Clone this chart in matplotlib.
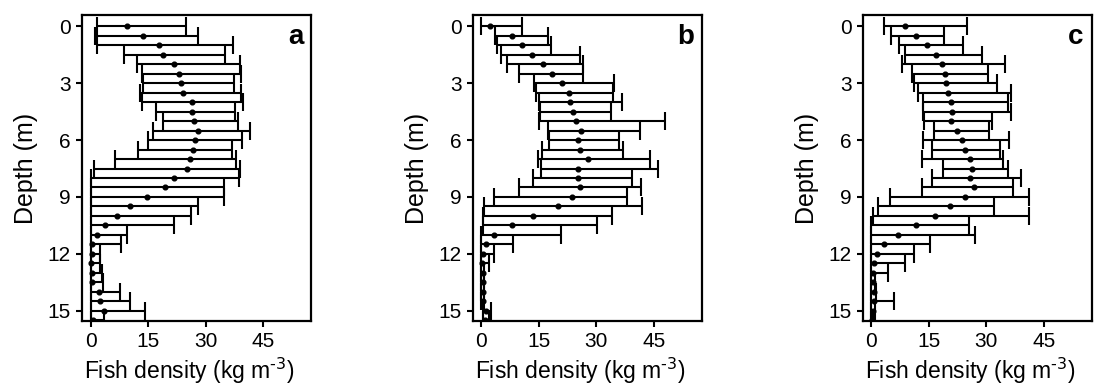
import numpy as np
import matplotlib
matplotlib.use("Agg")
import matplotlib.pyplot as plt

plt.rcParams['font.family'] = ['Liberation Sans', 'DejaVu Sans']
plt.rcParams['mathtext.default'] = 'regular'

depth = np.arange(0, 16, 0.5)  # 0 .. 15.5 m

# Panel a
a_mean = [9.45, 13.6, 17.9, 18.8, 21.7, 23.0, 23.6, 24.1, 26.3, 26.3, 26.9, 28.0, 27.2, 26.7, 25.8, 25.2,
          21.7, 19.4, 14.7, 10.1, 6.9, 3.8, 1.6, 0.4, 0.2, 0.1, 0.2, 0.3, 2.2, 2.5, 3.5, 0.6]
a_low = [1.5, 1.2, 1.5, 8.7, 12.1, 13.4, 13.6, 12.7, 13.4, 17.1, 18.7, 16.2, 14.9, 12.4, 6.2, 0.7,
         0, 0, 0, 0, 0, 0, 0, 0, 0, 0, 0, 0, 0, 0, 0, 0]
a_high = [24.9, 27.9, 37.0, 35.1, 39.0, 39.3, 37.3, 39.3, 39.8, 37.5, 38.4, 41.5, 39.5, 36.7, 37.9, 39.0,
          38.7, 34.8, 34.8, 28.0, 26.2, 21.6, 9.4, 7.9, 2.4, 2.4, 2.8, 3.2, 7.6, 10.1, 14.0, 3.5]

# Panel b
b_mean = [2.3, 8.0, 10.5, 13.3, 16.0, 18.5, 20.9, 22.9, 23.1, 24.0, 24.8, 26.1, 25.1, 25.6, 27.8, 25.3,
          25.3, 25.6, 23.7, 20.1, 13.5, 8.0, 3.3, 1.1, 0.3, 0.2, 0.3, 0.3, 0.3, 0.3, 1.3, 1.0]
b_low = [0, 3.6, 4.0, 5.1, 6.6, 9.9, 13.7, 14.2, 15.0, 15.3, 15.1, 17.3, 17.7, 15.9, 14.7, 15.6,
         13.4, 9.7, 3.2, 0.8, 0.3, 0.3, 0, 0, 0, 0, 0, 0, 0, 0, 0.5, 0.4]
b_high = [10.7, 17.5, 18.1, 25.7, 26.5, 26.5, 34.7, 34.4, 36.8, 33.8, 48.0, 41.4, 35.9, 36.9, 44.0, 46.0,
          39.4, 41.7, 38.1, 42.0, 34.0, 30.2, 20.8, 8.3, 3.4, 2.1, 0.8, 0.7, 0.7, 0.7, 2.5, 2.1]

# Panel c
c_mean = [8.7, 11.7, 14.4, 16.9, 18.3, 19.1, 19.5, 20.1, 20.7, 21.0, 20.7, 22.4, 23.7, 24.3, 25.7, 26.2,
          25.7, 26.7, 24.3, 20.5, 16.6, 11.7, 6.9, 3.4, 1.5, 0.7, 0.4, 0.4, 0.6, 0.7, 0.4, 0.1]
c_low = [3.3, 5.0, 7.2, 8.8, 8.0, 10.5, 11.2, 12.1, 13.5, 13.5, 13.8, 16.3, 13.5, 15.9, 13.1, 18.7,
         15.7, 13.1, 4.9, 1.7, 0.3, 0, 0, 0, 0, 0, 0, 0, 0, 0, 0, 0]
c_high = [24.9, 18.9, 23.9, 28.8, 34.8, 30.4, 32.8, 36.4, 35.7, 36.4, 31.5, 30.8, 36.0, 33.5, 34.3, 35.6,
          38.9, 37.0, 41.1, 32.1, 41.1, 25.5, 27.0, 15.3, 11.2, 8.8, 4.4, 0.9, 1.1, 6.0, 0.9, 0.3]

panels = [("a", a_mean, a_low, a_high),
          ("b", b_mean, b_low, b_high),
          ("c", c_mean, c_low, c_high)]

x_ticks = [0, 15, 30, 45]
y_ticks = [0, 3, 6, 9, 12, 15]

fig = plt.figure(figsize=(10.94, 3.85), dpi=100)
lefts = [0.075, 0.432, 0.7885]
width = 0.2095
bottom = 0.166
height = 0.795

for (letter, mean, low, high), left in zip(panels, lefts):
    ax = fig.add_axes([left, bottom, width, height])
    mean = np.array(mean)
    low = np.array(low)
    high = np.array(high)
    xerr = np.vstack([mean - low, high - mean])
    ax.errorbar(mean, depth, xerr=xerr, fmt='o', color='black', ecolor='black',
                ms=3.4, elinewidth=1.5, capsize=6.3, capthick=1.5)
    ax.set_xlim(-2.3, 57.5)
    ax.set_ylim(15.55, -0.6)
    ax.set_xticks(x_ticks)
    ax.set_yticks(y_ticks)
    ax.tick_params(axis='both', labelsize=15, width=1.5, length=4.5, color='black',
                   labelcolor='black')
    for s in ax.spines.values():
        s.set_linewidth(1.6)
        s.set_color('black')
    ax.set_xlabel(r'Fish density (kg m$^{\text{-3}}$)', fontsize=16.5)
    ax.xaxis.set_label_coords(0.47, -0.112)
    ax.set_ylabel('Depth (m)', fontsize=18, labelpad=7)
    ax.text(0.965, 0.905, letter, transform=ax.transAxes, ha='right', va='baseline',
            fontsize=20, fontweight='bold')

fig.savefig('out.png', dpi=100)
